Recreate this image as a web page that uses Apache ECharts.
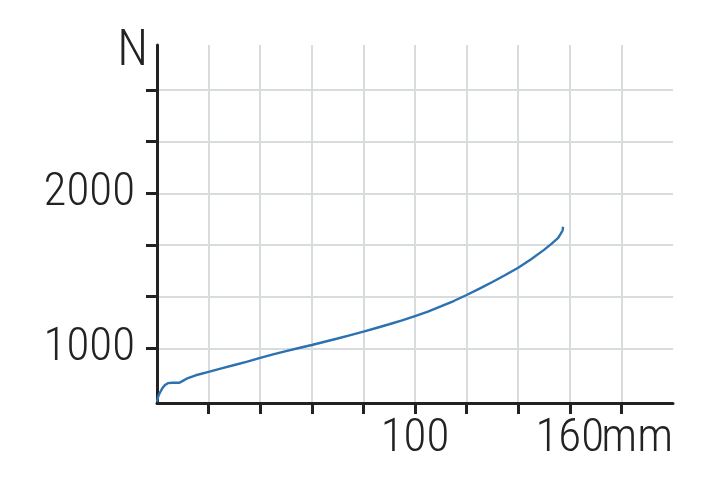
<!DOCTYPE html>
<html>
<head>
<meta charset="utf-8">
<script src="https://cdn.jsdelivr.net/npm/echarts@6/dist/echarts.min.js"></script>
<style>
html,body{margin:0;padding:0;background:#fff;}
#chart{width:712px;height:485px;}
</style>
</head>
<body>
<div id="chart"></div>
<script>
// Data
const travelMm = [0, 0.5, 1, 2, 3, 4.2, 6, 8.7, 10, 12, 15, 20, 25, 30, 35, 40, 45, 50, 55, 60, 65, 70, 75, 80, 85, 90, 95, 100, 105, 110, 115, 120, 125, 130, 135, 140, 145, 150, 153, 155.5, 156.5, 157.2, 157.4];
const forceN = [655, 690, 710, 740, 762, 775, 778, 778, 790, 808, 826, 848, 870, 892, 914, 938, 961, 982, 1002, 1021, 1042, 1063, 1085, 1107, 1131, 1155, 1180, 1208, 1236, 1270, 1305, 1344, 1385, 1428, 1473, 1520, 1575, 1635, 1675, 1712, 1740, 1760, 1784];
const xTicks = [20, 40, 60, 80, 100, 120, 140, 160, 180];
const xLabels = [100, 160];
const yTicks = [1000, 1333.33, 1666.67, 2000, 2333.33, 2666.67];
const yLabels = [1000, 2000];
const xName = 'mm';
const yName = 'N';

const FONT = "'Roboto Condensed', 'Noto Sans Condensed', 'Open Sans Condensed', Roboto, sans-serif";
const FW = 300;
const FS = 47;
const AX = '#222222';
const GRID = '#d9dcdd';

const chart = echarts.init(document.getElementById('chart'), null, {renderer: 'canvas'});
chart.setOption({
  animation: false,
  backgroundColor: '#ffffff',
  grid: {left: 157, right: 39, top: 45, bottom: 82, containLabel: false},
  xAxis: {
    type: 'value', min: 0, max: 200,
    name: xName, nameLocation: 'end', nameGap: 0, nameMoveOverlap: false,
    nameTextStyle: {fontFamily: FONT, fontWeight: FW, fontSize: FS, color: AX, align: 'right', verticalAlign: 'top', padding: [13, 0, 0, 0]},
    axisLine: {show: true, lineStyle: {color: AX, width: 3}},
    axisTick: {show: true, customValues: xTicks, length: 11, lineStyle: {color: AX, width: 3}},
    axisLabel: {show: true, customValues: xLabels, margin: 13, fontFamily: FONT, fontWeight: FW, fontSize: FS, color: AX,
      formatter: v => String(v)},
    splitLine: {show: true, lineStyle: {color: GRID, width: 2}}
  },
  yAxis: {
    type: 'value', min: 647, max: 2957,
    name: yName, nameLocation: 'end', nameGap: -7,
    nameTextStyle: {fontFamily: FONT, fontWeight: FW, fontSize: FS + 3, color: AX, align: 'right', verticalAlign: 'middle', padding: [0, 9, 0, 0]},
    axisLine: {show: true, lineStyle: {color: AX, width: 3}},
    axisTick: {show: true, customValues: yTicks, length: 11, lineStyle: {color: AX, width: 3}},
    axisLabel: {show: true, customValues: yLabels, margin: 22, fontFamily: FONT, fontWeight: FW, fontSize: FS, color: AX,
      formatter: v => String(Math.round(v))},
    splitLine: {show: true, lineStyle: {color: GRID, width: 2}}
  },
  series: [{
    type: 'line',
    data: travelMm.map((x, i) => [x, forceN[i]]),
    showSymbol: false,
    smooth: false,
    lineStyle: {color: '#2c71b0', width: 2.4},
    z: 3
  }]
});
</script>
</body>
</html>
